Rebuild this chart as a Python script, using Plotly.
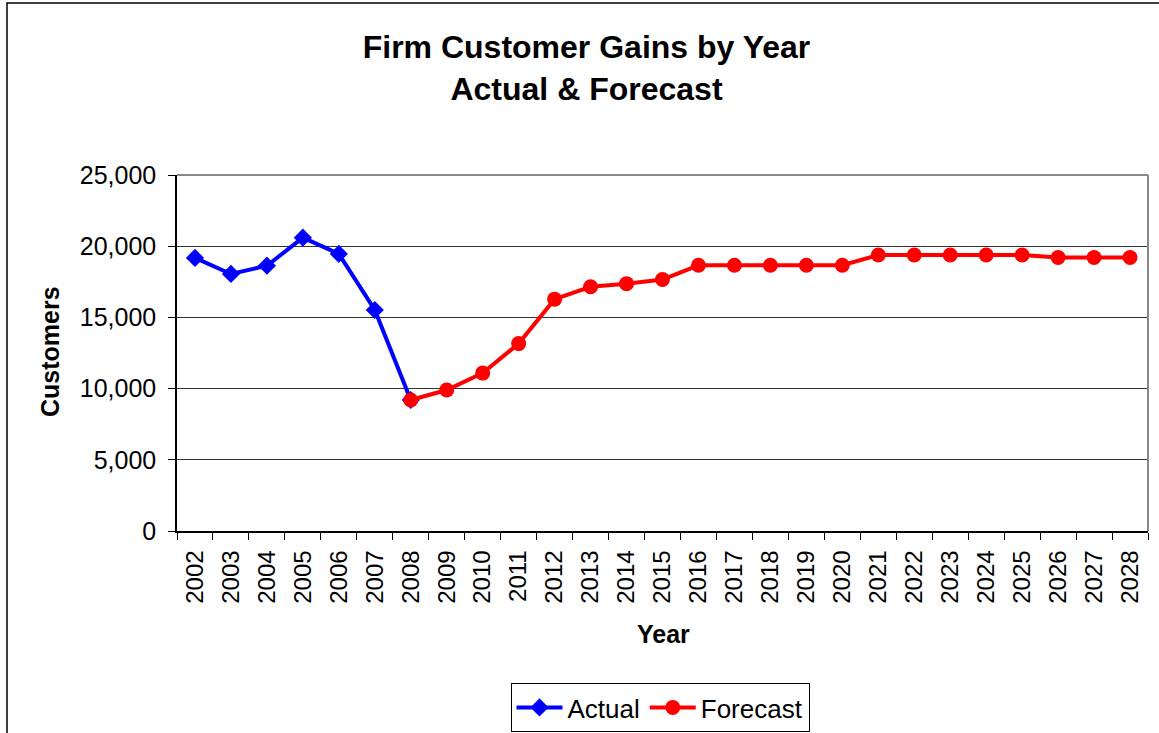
import plotly.graph_objects as go

# Firm customer gains, actual history and forecast
years = [str(y) for y in range(2002, 2029)]

actual_years = ["2002", "2003", "2004", "2005", "2006", "2007", "2008"]
actual_values = [19180, 18050, 18630, 20600, 19460, 15520, 9200]

forecast_years = [str(y) for y in range(2008, 2029)]
forecast_values = [9200, 9900, 11090, 13160, 16280, 17150, 17370, 17660,
                   18660, 18660, 18660, 18660, 18660,
                   19380, 19380, 19380, 19380, 19380,
                   19210, 19210, 19210]

y_ticks = [0, 5000, 10000, 15000, 20000, 25000]

FONT = "Arial, 'Liberation Sans', sans-serif"

fig = go.Figure()

fig.add_trace(go.Scatter(
    x=actual_years, y=actual_values, name="Actual", mode="lines+markers",
    line=dict(color="#0000FF", width=4),
    marker=dict(symbol="diamond", size=14, color="#0000FF"),
))
fig.add_trace(go.Scatter(
    x=forecast_years, y=forecast_values, name="Forecast", mode="lines+markers",
    line=dict(color="#FF0000", width=4),
    marker=dict(symbol="circle", size=15, color="#FF0000"),
))

L, R, T, B = 177, 11, 175, 202
W, H = 1159, 733
pw, ph = W - L - R, H - T - B


def px_x(p):
    return (p - L) / pw


def px_y(p):
    return (H - B - p) / ph


fig.update_layout(
    width=W, height=H,
    margin=dict(l=L, r=R, t=T, b=B, autoexpand=False),
    paper_bgcolor="white", plot_bgcolor="white",
    font=dict(family=FONT, color="black", size=25),
    title=dict(
        text="<b>Firm Customer Gains by Year<br>Actual & Forecast</b>",
        x=586.5 / W, xref="container", xanchor="center",
        y=1 - 58 / H, yref="container", yanchor="middle",
        font=dict(size=32, family=FONT, color="black"),
    ),
    xaxis=dict(
        type="category", categoryorder="array", categoryarray=years,
        tickvals=years, ticktext=years,
        tickangle=-90, tickson="boundaries",
        ticks="outside", ticklen=7, tickcolor="black",
        ticklabelstandoff=8,
        showline=True, linecolor="black", linewidth=1.5,
        showgrid=False, zeroline=False,
        tickfont=dict(size=24, family=FONT),
        range=[-0.5, len(years) - 0.5],
    ),
    yaxis=dict(
        range=[0, 25000], tickvals=y_ticks, tickformat=",d",
        ticks="outside", ticklen=7, tickcolor="black",
        ticklabelstandoff=7,
        showline=True, linecolor="black", linewidth=1.5,
        showgrid=True, gridcolor="#333333", gridwidth=1,
        zeroline=False,
        tickfont=dict(size=25, family=FONT),
    ),
    legend=dict(
        orientation="h", x=px_x(660), xanchor="center",
        y=px_y(683), yanchor="top",
        bordercolor="black", borderwidth=1,
        font=dict(size=26, family=FONT),
        itemwidth=46,
    ),
    showlegend=True,
    annotations=[
        dict(text="<b>Year</b>", x=px_x(663), y=px_y(634), xref="paper", yref="paper",
             xanchor="center", yanchor="middle",
             showarrow=False, font=dict(size=25, family=FONT)),
        dict(text="<b>Customers</b>", x=px_x(50), y=px_y(352), xref="paper", yref="paper",
             xanchor="center", yanchor="middle",
             showarrow=False, textangle=-90, font=dict(size=25, family=FONT)),
    ],
    shapes=[
        # plot-area frame: grey on top and right
        dict(type="line", xref="paper", yref="paper", x0=0, x1=1, y0=1, y1=1,
             line=dict(color="#888888", width=2)),
        dict(type="line", xref="paper", yref="paper", x0=1, x1=1, y0=0, y1=1,
             line=dict(color="#888888", width=2)),
        # outer chart border
        dict(type="rect", xref="paper", yref="paper",
             x0=px_x(7), x1=px_x(W + 20), y0=px_y(H + 20), y1=px_y(3),
             line=dict(color="black", width=1.5)),
    ],
)

fig.write_html("out.html")
